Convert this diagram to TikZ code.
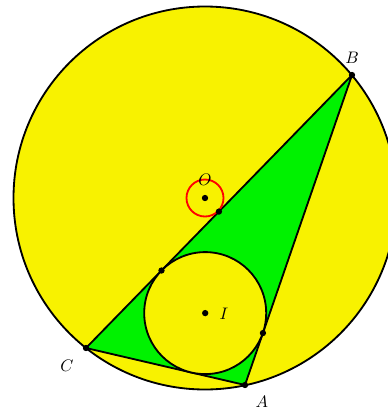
\documentclass[tikz,border=0pt]{standalone}
\usetikzlibrary{calc}
\definecolor{fillyellow}{RGB}{248,242,0}
\definecolor{fillgreen}{RGB}{0,242,0}
\begin{document}
\begin{tikzpicture}[x=0.6pt,y=-0.6pt,line width=1.1pt,
  dot/.style={circle,fill=black,inner sep=0pt,minimum size=3.8pt},
  lbl/.style={inner sep=0pt}]
\useasboundingbox (0,0) rectangle (388,409);
\coordinate (O) at (205,198);
\coordinate (A) at (245,385);
\coordinate (B) at (352,75);
\coordinate (C) at (86,348);
\coordinate (I) at (205.2,313.1);
\coordinate (TC) at ($(C)!(I)!(B)$);
\coordinate (TA) at ($(A)!(I)!(B)$);
\coordinate (F) at ($(C)!(O)!(B)$);
% circumcircle
\draw[fill=fillyellow] (O) circle[radius=191.5];
% triangle
\draw[fill=fillgreen,line join=round] (A) -- (B) -- (C) -- cycle;
% incircle
\draw[fill=fillyellow] (I) circle[radius=61];
% small red circle
\draw[red] (O) circle[radius=18.5];
% dots
\foreach \p in {O,A,B,C,I,TC,TA,F} \node[dot] (d\p) at (\p) {};
% labels
\node[lbl] (lO) at (205,180) {$O$};
\node[lbl] (lB) at (352,58) {$B$};
\node[lbl] (lC) at (67,366) {$C$};
\node[lbl] (lA) at (262,401.5) {$A$};
\node[lbl] (lI) at (224,314) {$I$};
\end{tikzpicture}
\end{document}
